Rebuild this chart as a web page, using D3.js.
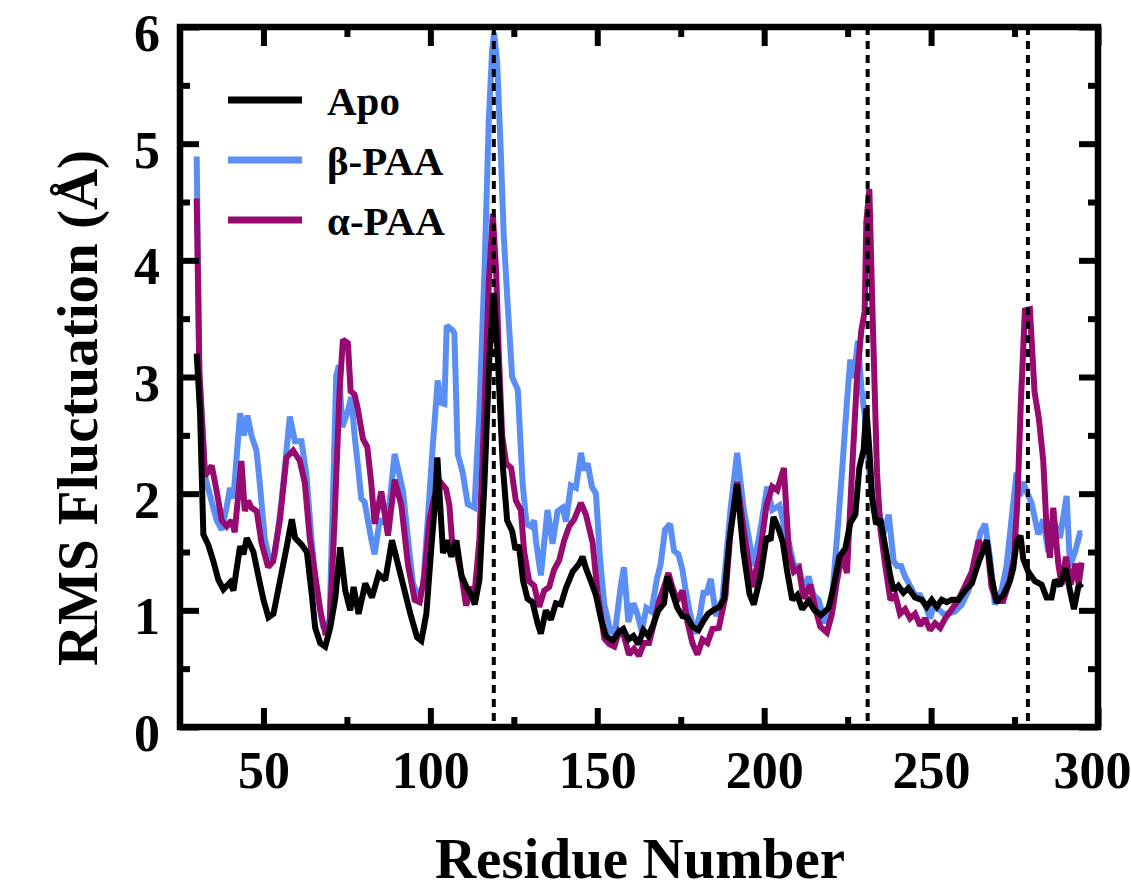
<!DOCTYPE html>
<html>
<head>
<meta charset="utf-8">
<script src="https://cdn.jsdelivr.net/npm/d3@7"></script>
<style>
  body { margin: 0; background: #fff; }
  svg text { font-family: "Liberation Serif", "Times New Roman", serif; font-weight: bold; }
</style>
</head>
<body>
<div id="chart"></div>
<script>
// RMSF per residue [residue, Å]
const apoPoints = [
  [30,3.2],[31,2.7],[32,1.65],[33.5,1.56],[35,1.42],[36.5,1.26],[38,1.18],[40,1.24],[41,1.17],[43,1.55],
  [44,1.48],[45,1.62],[47,1.5],[48.5,1.29],[50,1.09],[51.5,0.94],[53,0.97],[55,1.26],[57,1.55],[58.5,1.78],
  [59.5,1.62],[61.5,1.56],[63,1.5],[64.5,1.13],[65.5,0.85],[67,0.72],[68.5,0.69],[70,0.85],[71.5,1.1],[73,1.54],
  [74.5,1.17],[76,1.0],[77,1.2],[78.5,0.97],[80.5,1.23],[82.5,1.11],[84.5,1.31],[86.5,1.26],[88.5,1.6],[90,1.43],
  [92,1.2],[94,0.97],[96,0.77],[97.3,0.74],[98.8,0.97],[100.3,1.54],[101.3,1.89],[102.1,2.31],[103.8,1.49],[104.8,1.6],
  [106.3,1.46],[107.8,1.6],[109.3,1.3],[110.8,1.2],[112.3,1.13],[113.3,1.05],[114.7,1.26],[116.2,2.09],[117.7,3.17],[119,3.72],
  [120.2,3.17],[121.7,2.24],[123,1.77],[124.5,1.68],[125.5,1.52],[126.5,1.56],[127.8,1.25],[129.1,1.1],[130.6,1.07],[132.1,0.89],
  [133.1,0.8],[134.6,1.0],[136.1,0.92],[137.6,1.06],[139.1,1.05],[140.6,1.19],[142.6,1.33],[144.6,1.4],[145.6,1.46],[146.6,1.36],
  [148.1,1.25],[149.6,1.13],[151.1,0.93],[152.6,0.78],[154.6,0.74],[156.3,0.81],[157.8,0.84],[159.3,0.75],[160.8,0.78],[162.3,0.71],
  [163.8,0.83],[165.3,0.78],[166.8,0.88],[168.3,1.0],[170,1.06],[171,1.29],[172.3,1.17],[174,1.02],[175.5,0.95],[177,0.94],
  [178.5,0.86],[180.3,0.83],[181.8,0.91],[183.2,0.97],[184.7,1.0],[186.6,1.03],[188,1.1],[189.6,1.6],[191.9,2.08],[193.7,1.52],
  [195.6,1.14],[196.9,1.05],[198.9,1.29],[200.7,1.63],[201.9,1.6],[202.8,1.8],[204.3,1.7],[205.6,1.58],[206.9,1.33],[208.4,1.09],
  [209.9,1.13],[211.4,1.01],[213.3,1.08],[215.1,1.0],[217.1,0.96],[219.3,1.02],[220.8,1.2],[222.5,1.46],[224.3,1.53],[225.8,1.75],
  [227.3,1.82],[228.5,2.22],[229.8,2.38],[230.6,2.73],[231.5,2.38],[232.3,1.98],[233.5,1.74],[234.8,1.78],[236.3,1.54],[237.8,1.29],
  [238.8,1.17],[240.2,1.21],[241.7,1.15],[243.2,1.19],[245.2,1.11],[247.2,1.09],[248.7,1.03],[250.2,1.09],[251.7,1.03],[253.2,1.09],
  [254.7,1.07],[256.2,1.09],[258.2,1.09],[260.2,1.17],[262.2,1.23],[264.2,1.41],[265.7,1.52],[266.7,1.6],[268.1,1.29],[269.6,1.07],
  [271.6,1.13],[273.6,1.25],[274.6,1.36],[275.6,1.58],[276.8,1.64],[277.6,1.44],[279.1,1.33],[281.1,1.25],[283.1,1.22],[284.6,1.11],
  [286.1,1.11],[287.1,1.26],[288.6,1.21],[290.3,1.36],[291.6,1.17],[292.8,1.01],[294.1,1.2],[295.2,1.23]
];

const betaPoints = [
  [30,4.89],[30.8,3.04],[32.5,2.15],[34.5,1.93],[36,1.77],[37.5,1.69],[39,1.89],[40,2.05],[41,1.96],[43,2.69],
  [44.1,2.5],[45.2,2.67],[46.4,2.5],[47.9,2.37],[48.9,2.09],[50.4,1.61],[51.9,1.42],[53.4,1.48],[55.4,1.93],[57.9,2.66],
  [59.4,2.45],[61.4,2.45],[62.9,2.15],[64.4,1.61],[65.6,1.25],[67.9,0.85],[69.8,0.91],[71.8,3.01],[72.6,3.1],[73.6,2.57],
  [75.3,2.71],[76.3,2.83],[77.3,2.5],[78.3,2.24],[79.3,1.96],[80.3,1.93],[81.3,1.77],[82.3,1.61],[83.3,1.48],[84.8,1.77],
  [86.3,1.75],[87.8,1.93],[89.3,2.34],[90.8,2.15],[91.8,2.02],[93.3,1.61],[94.8,1.23],[96.2,1.13],[97.8,1.2],[99.2,1.77],
  [100.7,2.4],[102.2,2.97],[103.2,2.78],[104.2,2.77],[104.9,3.44],[106.7,3.4],[107.2,3.37],[108.2,2.34],[109.7,2.18],[111.2,1.91],
  [113.2,1.88],[114.7,2.72],[116.2,3.9],[117.5,5.2],[118.5,5.8],[119.1,5.95],[120,5.7],[121,5.0],[122,4.2],[123,3.7],
  [124.5,3.0],[126.2,2.89],[127.6,2.1],[128.8,1.74],[130.1,1.72],[131.1,1.77],[131.6,1.6],[133.1,1.3],[135.1,1.86],[136.6,1.57],
  [138.1,1.85],[139.6,1.88],[140.6,1.76],[142.1,2.07],[143.6,2.05],[145.1,2.35],[146.1,2.2],[147.1,2.26],[148.4,2.06],[149.6,2.0],
  [150.8,1.45],[152.1,1.05],[154.1,0.8],[155.5,0.86],[157,1.2],[158,1.37],[159.3,0.9],[160.8,1.06],[162,0.97],[163.3,0.82],
  [164.7,1.02],[166.2,0.99],[167.8,1.26],[169,1.4],[170.3,1.69],[171.8,1.74],[173,1.51],[174.3,1.48],[175.5,1.35],[176.3,1.2],
  [177.8,0.97],[179.3,0.8],[180.8,0.97],[181.8,1.15],[182.8,1.15],[184,1.27],[185.6,0.95],[187.5,1.1],[189.9,1.86],[191.9,2.35],
  [193.9,1.86],[196.9,1.38],[198.9,1.7],[200.9,2.06],[202.4,1.86],[204.6,1.9],[206.4,1.66],[207.4,1.58],[208.9,1.38],[210.4,1.38],
  [211.8,1.17],[213.3,1.29],[214.8,1.13],[216.3,1.09],[218.3,0.89],[220.3,1.09],[221.8,1.62],[223.3,2.18],[224.8,2.79],[225.8,3.15],
  [226.8,2.99],[228.1,3.31],[229.1,2.91],[230.1,2.67],[231.5,2.18],[232.8,1.86],[234.3,1.86],[235.8,1.66],[237.3,1.82],[238.8,1.42],
  [239.8,1.38],[241,1.38],[242.2,1.29],[243.7,1.21],[245.2,1.13],[246.7,1.13],[248.2,1.05],[249.7,0.93],[250.7,1.03],[252.2,1.01],
  [253.7,0.97],[255.2,0.97],[257.2,0.99],[259.2,1.05],[261.2,1.17],[263.2,1.38],[264.7,1.66],[266.2,1.74],[267.6,1.46],[269.1,1.05],
  [271.1,1.17],[272.6,1.38],[274.1,1.78],[275.6,2.18],[276.6,1.98],[277.6,2.1],[278.6,2.02],[280.1,1.92],[282.1,1.65],[283.6,1.78],
  [285.1,1.5],[287.1,1.74],[288.6,1.62],[290.6,1.98],[291.6,1.38],[293.1,1.5],[294.6,1.66],[295.3,1.66]
];

const alphaPoints = [
  [30,4.53],[30.8,3.04],[32.5,2.15],[34.5,2.24],[36,2.02],[37.5,1.77],[39,1.72],[40.4,1.77],[41.4,1.67],[43.4,2.28],
  [44.4,1.85],[45.4,1.94],[46.4,1.88],[48,1.85],[49.4,1.58],[51.4,1.37],[52.9,1.42],[54.9,1.77],[56.9,2.31],[58.9,2.37],
  [60.9,2.28],[62.4,2.09],[63.9,1.61],[65.4,1.32],[67,1.0],[68.4,0.82],[69.8,0.85],[71.3,1.77],[72.8,2.88],[73.8,3.32],
  [75.3,3.29],[76.1,2.88],[77.3,2.85],[78.3,2.72],[79.8,2.47],[81.1,2.4],[82.3,2.09],[83.3,1.74],[85.3,2.02],[87.3,1.64],
  [89.3,2.12],[91.3,1.9],[93.3,1.39],[95.3,1.09],[96.8,1.07],[98.2,1.29],[99.7,1.77],[101,1.95],[102.7,2.11],[104.7,2.04],
  [105.7,1.9],[106.7,1.51],[108,1.48],[109.2,1.32],[110.7,1.04],[112.2,1.2],[113.2,1.13],[114.7,1.61],[116.2,2.72],[117.5,3.8],
  [118.7,4.4],[119.7,3.9],[120.5,3.2],[121.5,2.5],[122.7,2.26],[124.2,2.22],[125.6,1.94],[127.1,1.86],[128.1,1.5],[129.6,1.25],
  [131.1,1.21],[132.6,1.03],[134.1,1.17],[135.6,1.2],[137.1,1.35],[138.6,1.43],[140.1,1.6],[141.6,1.72],[143.1,1.78],[145.1,1.92],
  [146.6,1.82],[148.6,1.58],[150.1,1.15],[152.1,0.76],[153.6,0.71],[155.1,0.69],[156.5,0.82],[158,0.78],[159.5,0.62],[161,0.67],
  [162.5,0.61],[164,0.72],[165.5,0.72],[167,0.89],[168.5,1.08],[170,1.2],[171.3,1.32],[172.5,1.2],[174,1.08],[175.5,1.17],
  [177,0.9],[178.5,0.72],[180,0.62],[181.5,0.75],[183,0.72],[184.5,0.84],[186.4,0.85],[188.4,1.12],[189.9,1.68],[191.9,2.1],
  [193.9,1.68],[196.4,1.2],[198.7,1.48],[200.7,1.9],[202.4,2.06],[203.9,2.03],[205.9,2.22],[207.4,1.5],[208.9,1.33],[210.4,1.36],
  [211.8,1.1],[213.8,1.22],[215.3,1.02],[216.8,0.86],[218.8,0.81],[220.3,0.97],[221.8,1.25],[223.3,1.48],[224.8,1.32],[226.3,2.18],
  [227.8,2.99],[229.1,3.4],[230.1,3.56],[230.6,4.33],[231.5,4.61],[232.6,3.4],[233.8,2.18],[234.8,1.7],[236.3,1.38],[237.8,1.09],
  [239.3,1.13],[240.7,0.97],[242.2,1.01],[243.7,0.93],[245.2,0.97],[246.7,0.87],[248.2,0.93],[249.7,0.83],[251.2,0.89],[252.7,0.85],
  [254.2,0.93],[256.2,1.01],[258.2,1.09],[260.2,1.21],[262.2,1.33],[264.2,1.6],[265.7,1.52],[266.7,1.6],[268.1,1.2],[269.6,1.08],
  [271.6,1.08],[273.4,1.24],[274.8,1.45],[275.8,1.9],[276.9,2.79],[278.1,3.57],[279.6,3.58],[281,2.87],[282.3,2.64],[283.6,2.28],
  [284.6,1.7],[285.6,1.45],[286.6,1.88],[288.1,1.4],[289.1,1.22],[290.4,1.46],[291.8,1.22],[293.3,1.4],[294.2,1.22],[295.1,1.41]
];

const seriesNames = ["Apo", "β-PAA", "α-PAA"];
const seriesColors = ["#000000", "#5b8ef5", "#970a6f"];
const markedResidues = [119, 231, 279];   // dotted guide lines
const xMajorTicks = [50, 100, 150, 200, 250, 300];
const xMinorTicks = [75, 125, 175, 225, 275];
const yMajorTicks = [0, 1, 2, 3, 4, 5, 6];
const yMinorTicks = [0.5, 1.5, 2.5, 3.5, 4.5, 5.5];

const W = 1131, H = 890;
const plot = { left: 180, right: 1098, top: 27, bottom: 727 };

const svg = d3.select("#chart").append("svg")
  .attr("width", W)
  .attr("height", H);

const x = d3.scaleLinear().domain([25, 300]).range([plot.left, plot.right]);
const y = d3.scaleLinear().domain([0, 6]).range([plot.bottom, plot.top]);

// 数据线：蓝、紫、黑（黑色在最上）
const line = d3.line().x(d => x(d[0])).y(d => y(d[1]));
const drawOrder = [[betaPoints, 1], [alphaPoints, 2], [apoPoints, 0]];
drawOrder.forEach(([pts, i]) => {
  svg.append("path")
    .datum(pts)
    .attr("d", line)
    .attr("fill", "none")
    .attr("stroke", seriesColors[i])
    .attr("stroke-width", 6)
    .attr("stroke-linejoin", "miter")
    .attr("stroke-miterlimit", 2);
});

// dotted markers
svg.selectAll("line.mark")
  .data(markedResidues)
  .enter().append("line")
  .attr("class", "mark")
  .attr("x1", d => x(d)).attr("x2", d => x(d))
  .attr("y1", plot.top).attr("y2", plot.bottom)
  .attr("stroke", "#000")
  .attr("stroke-width", 4)
  .attr("stroke-dasharray", "8,6");

// axes, ticks point inward
function styleAxis(g) {
  g.select(".domain").remove();
  g.selectAll(".tick line").attr("stroke", "#000").attr("stroke-width", 6);
  g.selectAll("text").attr("fill", "#000").style("font-size", "52px").style("font-family", null);
}

const xLabels = svg.append("g")
  .attr("transform", `translate(0,${plot.bottom})`)
  .call(d3.axisBottom(x).tickValues(xMajorTicks).tickSize(-19).tickPadding(24))
  .call(styleAxis);
// last label sits against the page edge
xLabels.selectAll(".tick text").filter(d => d === 300).attr("dx", -6);

svg.append("g")
  .attr("transform", `translate(0,${plot.bottom})`)
  .call(d3.axisBottom(x).tickValues(xMinorTicks).tickSize(-10).tickFormat(""))
  .call(styleAxis);
svg.append("g")
  .attr("transform", `translate(0,${plot.top})`)
  .call(d3.axisTop(x).tickValues(xMajorTicks).tickSize(-19).tickFormat(""))
  .call(styleAxis);
svg.append("g")
  .attr("transform", `translate(0,${plot.top})`)
  .call(d3.axisTop(x).tickValues(xMinorTicks).tickSize(-10).tickFormat(""))
  .call(styleAxis);

svg.append("g")
  .attr("transform", `translate(${plot.left},0)`)
  .call(d3.axisLeft(y).tickValues(yMajorTicks).tickSize(-19).tickPadding(20).tickFormat(d3.format("d")))
  .call(styleAxis)
  .call(g => g.selectAll(".tick text").attr("dy", "0.45em"));
svg.append("g")
  .attr("transform", `translate(${plot.left},0)`)
  .call(d3.axisLeft(y).tickValues(yMinorTicks).tickSize(-10).tickFormat(""))
  .call(styleAxis);
svg.append("g")
  .attr("transform", `translate(${plot.right},0)`)
  .call(d3.axisRight(y).tickValues(yMajorTicks).tickSize(-19).tickFormat(""))
  .call(styleAxis);
svg.append("g")
  .attr("transform", `translate(${plot.right},0)`)
  .call(d3.axisRight(y).tickValues(yMinorTicks).tickSize(-10).tickFormat(""))
  .call(styleAxis);

// frame
svg.append("rect")
  .attr("x", plot.left).attr("y", plot.top)
  .attr("width", plot.right - plot.left)
  .attr("height", plot.bottom - plot.top)
  .attr("fill", "none")
  .attr("stroke", "#000")
  .attr("stroke-width", 6.5);

// legend
const legend = svg.append("g").attr("transform", "translate(228,100)");
seriesNames.forEach((name, i) => {
  const yy = i * 60;
  legend.append("line")
    .attr("x1", 0).attr("x2", 74)
    .attr("y1", yy).attr("y2", yy)
    .attr("stroke", seriesColors[i])
    .attr("stroke-width", 7);
  legend.append("text")
    .attr("x", 99).attr("y", yy + 15)
    .style("font-size", "41px")
    .text(name);
});

// axis titles
svg.append("text")
  .attr("x", (plot.left + plot.right) / 2 + 1).attr("y", 878)
  .attr("text-anchor", "middle")
  .style("font-size", "57px")
  .text("Residue Number");

svg.append("text")
  .attr("transform", "translate(97,408) rotate(-90)")
  .attr("text-anchor", "middle")
  .style("font-size", "57px")
  .text("RMS Fluctuation (Å)");
</script>
</body>
</html>
